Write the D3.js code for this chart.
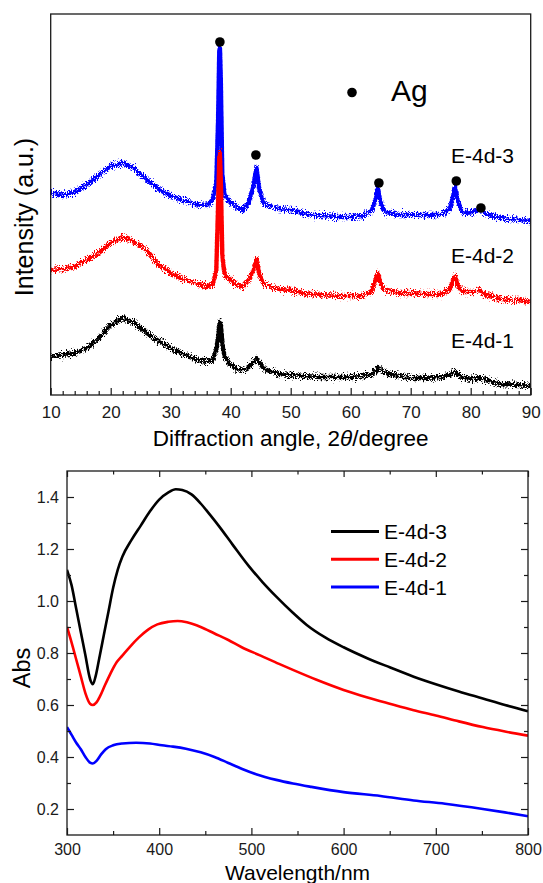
<!DOCTYPE html>
<html>
<head>
<meta charset="utf-8">
<script src="https://cdn.jsdelivr.net/npm/d3@7"></script>
<style>
  html, body { margin: 0; padding: 0; background: #fff; }
  svg { display: block; font-family: Arial, "Liberation Sans", sans-serif; }
</style>
</head>
<body>
<svg id="chart" width="543" height="883"></svg>
<script>
// ---------- XRD patterns (2θ in degrees, intensity in arbitrary units) ----------
const xrdAngles = [10, 12, 14, 16, 18, 20, 22, 24, 26, 28, 30, 32, 34, 36, 37, 37.6, 37.9, 38.1, 38.2, 38.35,
  38.6, 39, 40, 41, 42, 43, 43.8, 44.3, 44.8, 45.5, 46, 48, 50, 52, 55, 58, 60, 62, 63.5, 64.2,
  64.5, 64.9, 65.5, 66, 68, 70, 72, 75, 76.5, 77.1, 77.4, 77.8, 78.5, 79, 80.5, 81.5, 82.5, 85, 88, 90];
const xrdE4d3 = [203, 200, 203, 210, 220, 229, 232, 226, 215, 206, 199, 195, 191, 190, 195, 212, 275, 345, 348, 315,
  220, 200, 192, 188, 185, 192, 210, 227, 205, 192, 190, 186, 185, 182, 179, 178, 178, 179, 184, 197,
  207, 195, 184, 183, 180, 180, 180, 180, 186, 200, 208, 195, 184, 182, 183, 186, 181, 177, 175, 174];
const xrdE4d2 = [125, 126, 129, 135, 142, 152, 158, 153, 145, 130, 122, 116, 112, 109, 110, 125, 190, 238, 242, 215,
  140, 120, 115, 110, 108, 115, 125, 136, 120, 112, 110, 106, 105, 102, 100, 99, 99, 99, 104, 116,
  122, 113, 106, 105, 102, 102, 101, 101, 106, 116, 119, 110, 104, 103, 103, 105, 100, 96, 95, 93];
const xrdE4d1 = [38, 40, 42, 46, 57, 70, 77, 72, 62, 54, 47, 41, 36, 33, 35, 45, 58, 70, 73, 70,
  52, 38, 30, 26, 25, 28, 33, 36, 32, 27, 25, 21, 20, 19, 18, 18, 18, 19, 21, 24,
  27, 26, 23, 22, 19, 17, 17, 18, 20, 23, 23, 21, 18, 17, 16, 17, 15, 11, 10, 9];

// Ag reflections marked above the E-4d-3 pattern
const agAngles = [38.2, 44.2, 64.7, 77.6, 81.7];
const agMarks = [353, 240, 212, 214, 187];

const xrdTicks = [10, 20, 30, 40, 50, 60, 70, 80, 90];
const xrdMinorTicks = [12, 14, 16, 18, 22, 24, 26, 28, 32, 34, 36, 38, 42, 44, 46, 48,
  52, 54, 56, 58, 62, 64, 66, 68, 72, 74, 76, 78, 82, 84, 86, 88];
const xrdNames = ["E-4d-3", "E-4d-2", "E-4d-1"];
const xrdNameLevels = [240, 140, 55];

// ---------- UV-vis absorption spectra ----------
const uvWl3 = [300, 305, 310, 315, 320, 325, 328, 331, 335, 340, 345, 350, 355, 360, 370, 380, 390, 400, 410, 418,
  425, 435, 445, 455, 465, 480, 497, 512, 527, 545, 560, 580, 600, 625, 650, 676, 700, 725, 751, 775, 800];
const uvAbs3 = [1.12, 1.06, 0.97, 0.88, 0.79, 0.70, 0.68, 0.71, 0.78, 0.87, 0.96, 1.05, 1.12, 1.17, 1.235, 1.29, 1.345, 1.39, 1.418, 1.43,
  1.427, 1.41, 1.375, 1.332, 1.287, 1.215, 1.135, 1.073, 1.017, 0.955, 0.908, 0.86, 0.822, 0.781, 0.745, 0.709, 0.68, 0.652, 0.625, 0.60, 0.576];

const uvWl2 = [300, 305, 310, 315, 320, 325, 328, 332, 336, 341, 347, 354, 360, 368, 378, 388, 398, 410, 420, 430,
  445, 460, 475, 489, 510, 530, 545, 570, 600, 625, 650, 676, 700, 725, 751, 775, 800];
const uvAbs2 = [0.90, 0.84, 0.775, 0.71, 0.645, 0.605, 0.60, 0.61, 0.635, 0.675, 0.72, 0.765, 0.79, 0.823, 0.86, 0.89, 0.91, 0.92, 0.923, 0.918,
  0.90, 0.875, 0.85, 0.823, 0.79, 0.758, 0.735, 0.698, 0.658, 0.63, 0.605, 0.58, 0.56, 0.537, 0.515, 0.498, 0.482];

const uvWl1 = [300, 305, 310, 315, 320, 325, 328, 332, 337, 342, 350, 360, 375, 390, 403, 415, 429, 445, 460, 475,
  490, 505, 527, 545, 565, 600, 640, 676, 710, 751, 775, 800];
const uvAbs1 = [0.515, 0.485, 0.455, 0.43, 0.40, 0.378, 0.375, 0.385, 0.41, 0.43, 0.445, 0.452, 0.455, 0.452, 0.445, 0.44, 0.432, 0.418, 0.40, 0.377,
  0.354, 0.334, 0.312, 0.298, 0.285, 0.265, 0.25, 0.233, 0.22, 0.20, 0.187, 0.172];

const uvXTicks = [300, 400, 500, 600, 700, 800];
const uvXMinor = [350, 450, 550, 650, 750];
const uvYTicks = [0.2, 0.4, 0.6, 0.8, 1.0, 1.2, 1.4];
const uvYMinor = [0.3, 0.5, 0.7, 0.9, 1.1, 1.3];
const uvNames = ["E-4d-3", "E-4d-2", "E-4d-1"];
const seriesColors = ["#0000ff", "#ff0000", "#000000"];
const uvColors = ["#000000", "#ff0000", "#0000ff"];

const svg = d3.select("#chart");
const ink = "#1a1a1a";

// ===== Panel 1: XRD =====
const p1 = { left: 50.7, right: 530.7, top: 14, bottom: 395 };
const x1 = d3.scaleLinear().domain([10, 90]).range([p1.left, p1.right]);
const y1 = d3.scaleLinear().domain([0, 381]).range([p1.bottom, p1.top]);

// grainy counting-noise texture for the diffraction traces (vertical jitter only)
const defs = svg.append("defs");
const noise = defs.append("filter").attr("id", "grain")
  .attr("x", "-2%").attr("y", "-5%").attr("width", "104%").attr("height", "110%");
noise.append("feTurbulence").attr("type", "fractalNoise")
  .attr("baseFrequency", "1.1 0.6").attr("numOctaves", 2).attr("seed", 7).attr("result", "n");
noise.append("feColorMatrix").attr("in", "n").attr("type", "matrix")
  .attr("values", "0 0 0 0 0.5  0 1 0 0 0  0 0 0 0 0  0 0 0 0 1").attr("result", "nv");
noise.append("feDisplacementMap").attr("in", "SourceGraphic").attr("in2", "nv")
  .attr("scale", 12).attr("xChannelSelector", "R").attr("yChannelSelector", "G");

const xrdSeries = [xrdE4d3, xrdE4d2, xrdE4d1];
const xrdLine = d3.line().x((d, i) => x1(xrdAngles[i])).y(d => y1(d));
const traces = svg.append("g").attr("filter", "url(#grain)");
xrdSeries.forEach((vals, k) => {
  traces.append("path")
    .datum(vals)
    .attr("d", xrdLine)
    .attr("fill", "none")
    .attr("stroke", seriesColors[k])
    .attr("stroke-width", 4.4)
    .attr("stroke-linejoin", "round");
});

// Ag markers
svg.append("g").selectAll("circle")
  .data(agAngles)
  .join("circle")
  .attr("cx", d => x1(d))
  .attr("cy", (d, i) => y1(agMarks[i]))
  .attr("r", 4.8)
  .attr("fill", "#000");

// Ag key
svg.append("circle").attr("cx", 352).attr("cy", 92.5).attr("r", 4.8).attr("fill", "#000");
svg.append("text").attr("x", 391).attr("y", 100.5).attr("font-size", 30).attr("fill", "#000").text("Ag");

// series names
svg.append("g").selectAll("text")
  .data(xrdNames)
  .join("text")
  .attr("x", 514)
  .attr("y", (d, i) => y1(xrdNameLevels[i]))
  .attr("dy", "0.36em")
  .attr("text-anchor", "end")
  .attr("font-size", 21)
  .attr("fill", "#000")
  .text(d => d);

// frame
svg.append("rect")
  .attr("x", p1.left).attr("y", p1.top)
  .attr("width", p1.right - p1.left).attr("height", p1.bottom - p1.top)
  .attr("fill", "none").attr("stroke", ink).attr("stroke-width", 1.3);

// x axis, ticks pointing inward
const ax1 = svg.append("g").attr("transform", `translate(0,${p1.bottom})`)
  .call(d3.axisBottom(x1).tickValues(xrdTicks).tickSize(-7).tickPadding(11).tickFormat(d3.format("d")));
ax1.select(".domain").remove();
ax1.selectAll("text").attr("font-size", 17).attr("fill", ink).attr("font-family", "Arial, 'Liberation Sans', sans-serif");
ax1.selectAll("line").attr("stroke", ink).attr("stroke-width", 1.2);
const ax1m = svg.append("g").attr("transform", `translate(0,${p1.bottom})`)
  .call(d3.axisBottom(x1).tickValues(xrdMinorTicks).tickSize(-4).tickFormat(""));
ax1m.select(".domain").remove();
ax1m.selectAll("line").attr("stroke", ink).attr("stroke-width", 1.2);

// titles
const t1 = svg.append("text").attr("x", (p1.left + p1.right) / 2).attr("y", 445.5)
  .attr("text-anchor", "middle").attr("font-size", 22.5).attr("fill", "#000");
t1.append("tspan").text("Diffraction angle, 2");
t1.append("tspan").attr("font-style", "italic").text("θ");
t1.append("tspan").text("/degree");

svg.append("text")
  .attr("transform", "translate(33,217) rotate(-90)")
  .attr("text-anchor", "middle").attr("font-size", 25).attr("fill", "#000")
  .text("Intensity (a.u.)");

// ===== Panel 2: UV-vis =====
const p2 = { left: 67, right: 528, top: 471, bottom: 835 };
const x2 = d3.scaleLinear().domain([300, 800]).range([p2.left, p2.right]);
const y2 = d3.scaleLinear().domain([0.1, 1.5]).range([p2.bottom, p2.top]);

const uvSeries = [[uvWl3, uvAbs3], [uvWl2, uvAbs2], [uvWl1, uvAbs1]];
const clip = defs.append("clipPath").attr("id", "uvclip");
clip.append("rect").attr("x", p2.left).attr("y", p2.top)
  .attr("width", p2.right - p2.left).attr("height", p2.bottom - p2.top);

const uvG = svg.append("g").attr("clip-path", "url(#uvclip)");
uvSeries.forEach(([wl, ab], k) => {
  const line = d3.line().curve(d3.curveMonotoneX).x((d, i) => x2(wl[i])).y(d => y2(d));
  uvG.append("path")
    .datum(ab)
    .attr("d", line)
    .attr("fill", "none")
    .attr("stroke", uvColors[k])
    .attr("stroke-width", 2.6)
    .attr("stroke-linejoin", "round");
});

// legend
const leg = svg.append("g");
uvNames.forEach((name, k) => {
  const yy = 531.5 + k * 27.8;
  leg.append("line").attr("x1", 331).attr("x2", 379).attr("y1", yy).attr("y2", yy)
    .attr("stroke", uvColors[k]).attr("stroke-width", 3);
  leg.append("text").attr("x", 384).attr("y", yy).attr("dy", "0.36em")
    .attr("font-size", 21).attr("fill", "#000").text(name);
});

// frame
svg.append("rect")
  .attr("x", p2.left).attr("y", p2.top)
  .attr("width", p2.right - p2.left).attr("height", p2.bottom - p2.top)
  .attr("fill", "none").attr("stroke", ink).attr("stroke-width", 1.3);

function styleAxis(g, fontSize) {
  g.select(".domain").remove();
  g.selectAll("line").attr("stroke", ink).attr("stroke-width", 1.2);
  g.selectAll("text").attr("font-size", fontSize).attr("fill", ink)
    .attr("font-family", "Arial, 'Liberation Sans', sans-serif");
}

// bottom axis
styleAxis(svg.append("g").attr("transform", `translate(0,${p2.bottom})`)
  .call(d3.axisBottom(x2).tickValues(uvXTicks).tickSize(-7).tickPadding(9).tickFormat(d3.format("d"))), 16);
styleAxis(svg.append("g").attr("transform", `translate(0,${p2.bottom})`)
  .call(d3.axisBottom(x2).tickValues(uvXMinor).tickSize(-4).tickFormat("")), 16);
// top axis
styleAxis(svg.append("g").attr("transform", `translate(0,${p2.top})`)
  .call(d3.axisTop(x2).tickValues(uvXTicks).tickSize(-6).tickFormat("")), 16);
styleAxis(svg.append("g").attr("transform", `translate(0,${p2.top})`)
  .call(d3.axisTop(x2).tickValues(uvXMinor).tickSize(-3.5).tickFormat("")), 16);
// left axis
styleAxis(svg.append("g").attr("transform", `translate(${p2.left},0)`)
  .call(d3.axisLeft(y2).tickValues(uvYTicks).tickSize(-7).tickPadding(8).tickFormat(d3.format(".1f"))), 16);
styleAxis(svg.append("g").attr("transform", `translate(${p2.left},0)`)
  .call(d3.axisLeft(y2).tickValues(uvYMinor).tickSize(-4).tickFormat("")), 16);
// right axis
styleAxis(svg.append("g").attr("transform", `translate(${p2.right},0)`)
  .call(d3.axisRight(y2).tickValues(uvYTicks).tickSize(-7).tickFormat("")), 16);
styleAxis(svg.append("g").attr("transform", `translate(${p2.right},0)`)
  .call(d3.axisRight(y2).tickValues(uvYMinor).tickSize(-4).tickFormat("")), 16);

// titles
svg.append("text").attr("x", (p2.left + p2.right) / 2).attr("y", 880)
  .attr("text-anchor", "middle").attr("font-size", 21).attr("fill", "#000")
  .text("Wavelength/nm");
svg.append("text")
  .attr("transform", "translate(29.5,668) rotate(-90)")
  .attr("text-anchor", "middle").attr("font-size", 23.5).attr("fill", "#000")
  .text("Abs");
</script>
</body>
</html>
